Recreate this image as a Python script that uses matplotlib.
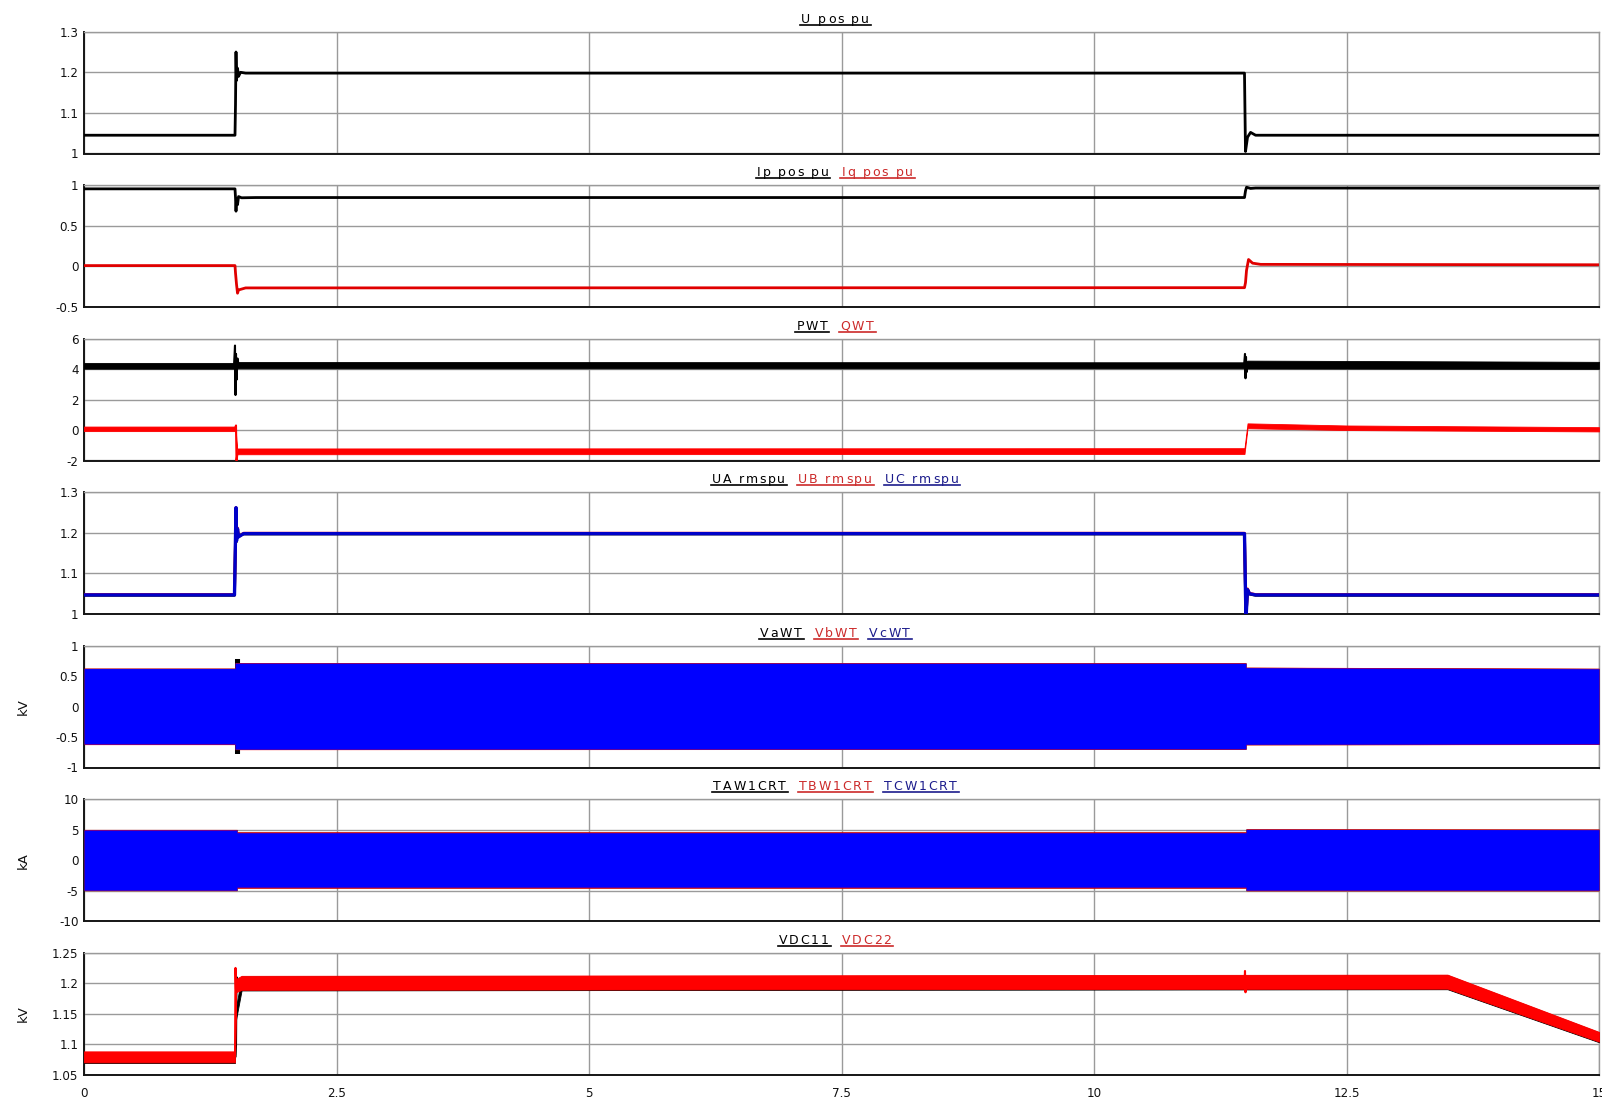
import numpy as np
import matplotlib
matplotlib.use("Agg")
import matplotlib.pyplot as plt
from matplotlib.lines import Line2D
from matplotlib.font_manager import FontProperties

# ---------------- data ----------------
# Panel 1: U_pos_pu
t_u = [0, 1.495, 1.50, 1.505, 1.51, 1.52, 1.53, 1.55, 1.60, 11.49, 11.495, 11.50, 11.52, 11.55, 11.60, 15]
u_pos = [1.045, 1.045, 1.12, 1.25, 1.18, 1.21, 1.19, 1.20, 1.198, 1.198, 1.10, 1.005, 1.04, 1.052, 1.045, 1.045]

# Panel 2: Ip_pos_pu, Iq_pos_pu
t_ip = [0, 1.495, 1.50, 1.505, 1.51, 1.52, 1.53, 1.56, 1.70, 11.49, 11.50, 11.51, 11.55, 11.60, 15]
ip_pos = [0.955, 0.955, 0.85, 0.68, 0.83, 0.76, 0.86, 0.845, 0.848, 0.848, 0.93, 0.975, 0.96, 0.965, 0.963]
t_iq = [0, 1.495, 1.50, 1.51, 1.52, 1.53, 1.60, 11.49, 11.50, 11.51, 11.53, 11.57, 11.65, 15]
iq_pos = [0.01, 0.01, -0.08, -0.22, -0.33, -0.29, -0.265, -0.262, -0.20, -0.05, 0.085, 0.04, 0.025, 0.02]

# Panel 3: PWT, QWT (noisy bands: centre and half width) + transients
t_pwt = [0, 1.49, 1.52, 11.49, 11.52, 15]
pwt_c = [4.22, 4.22, 4.26, 4.25, 4.30, 4.25]
pwt_h = [0.19, 0.19, 0.21, 0.20, 0.26, 0.23]
t_pwt_tr1 = [1.485, 1.495, 1.50, 1.505, 1.51, 1.52, 1.53]
pwt_tr1 = [4.2, 5.55, 2.3, 5.0, 3.3, 4.7, 4.3]
t_pwt_tr2 = [11.485, 11.495, 11.50, 11.505, 11.51, 11.52]
pwt_tr2 = [4.2, 5.0, 3.4, 4.8, 3.8, 4.3]
t_qwt = [0, 1.50, 1.515, 11.49, 11.52, 12.5, 15]
qwt_c = [0.08, 0.08, -1.40, -1.38, 0.28, 0.15, 0.05]
qwt_h = [0.15, 0.15, 0.19, 0.19, 0.16, 0.15, 0.14]
t_qwt_tr = [1.50, 1.505, 1.51, 1.52]
qwt_tr = [0.2, 0.3, -2.0, -1.5]

# Panel 4: UA_rmspu, UB_rmspu, UC_rmspu
t_rms = [0, 1.49, 1.495, 1.505, 1.51, 1.52, 1.53, 1.58, 11.49, 11.50, 11.505, 11.52, 11.54, 11.60, 15]
ua_rms = [1.046, 1.046, 1.110, 1.255, 1.178, 1.205, 1.192, 1.197, 1.197, 1.05, 0.99, 1.058, 1.049, 1.046, 1.046]
ub_rms = [1.048, 1.048, 1.118, 1.262, 1.182, 1.212, 1.190, 1.199, 1.199, 1.05, 0.99, 1.062, 1.051, 1.048, 1.048]
uc_rms = [1.047, 1.047, 1.116, 1.262, 1.180, 1.210, 1.190, 1.198, 1.198, 1.05, 0.99, 1.060, 1.050, 1.047, 1.047]

# Panel 5: VaWT, VbWT, VcWT  (envelopes of the 50 Hz waveforms, kV)
t_va = [0, 1.49, 1.49, 1.54, 1.54, 11.505, 11.505, 15]
va_hi = [0.630, 0.630, 0.790, 0.790, 0.720, 0.718, 0.645, 0.628]
va_lo = [-0.622, -0.622, -0.770, -0.770, -0.704, -0.700, -0.626, -0.620]
t_v = [0, 1.495, 1.495, 11.505, 11.505, 15]
vb_hi = [0.632, 0.632, 0.722, 0.720, 0.648, 0.630]
vb_lo = [-0.624, -0.624, -0.707, -0.702, -0.628, -0.622]
vc_hi = [0.625, 0.625, 0.715, 0.712, 0.640, 0.622]
vc_lo = [-0.615, -0.615, -0.700, -0.695, -0.620, -0.615]

# Panel 6: TAW1CRT, TBW1CRT, TCW1CRT (envelopes, kA)
t_i = [0, 1.515, 1.515, 11.505, 11.505, 15]
ia_hi = [5.02, 5.02, 4.62, 4.62, 5.12, 5.08]
ia_lo = [-5.00, -5.00, -4.58, -4.58, -5.02, -5.02]
ib_hi = [5.04, 5.04, 4.64, 4.64, 5.14, 5.10]
ib_lo = [-5.02, -5.02, -4.60, -4.60, -5.04, -5.04]
ic_hi = [4.95, 4.95, 4.50, 4.50, 5.05, 5.00]
ic_lo = [-4.95, -4.95, -4.45, -4.45, -4.95, -4.95]

# Panel 7: VDC11, VDC22 (noisy bands, kV)
t_dc = [0, 1.495, 1.505, 1.56, 13.5, 15]
dc22_c = [1.079, 1.079, 1.196, 1.2005, 1.2025, 1.112]
dc22_h = [0.009, 0.009, 0.011, 0.0115, 0.0115, 0.008]
dc11_c = [1.078, 1.078, 1.150, 1.1995, 1.2015, 1.111]
dc11_h = [0.009, 0.009, 0.010, 0.0115, 0.0115, 0.008]
t_dc_tr1 = [1.49, 1.495, 1.50, 1.505, 1.52, 1.56]
dc22_tr1 = [1.08, 1.08, 1.225, 1.19, 1.195, 1.20]
t_dc11_tr = [1.50, 1.505, 1.51, 1.52]
dc11_tr = [1.08, 1.10, 1.21, 1.195]
t_dc_tr2 = [11.49, 11.495, 11.50, 11.505]
dc22_tr2 = [1.20, 1.22, 1.185, 1.20]

x_ticks = [0, 2.5, 5, 7.5, 10, 12.5, 15]
x_ticklabels = ["0", "2.5", "5", "7.5", "10", "12.5", "15"]

y_ticks = [
    [1.0, 1.1, 1.2, 1.3],
    [-0.5, 0, 0.5, 1.0],
    [-2, 0, 2, 4, 6],
    [1.0, 1.1, 1.2, 1.3],
    [-1, -0.5, 0, 0.5, 1],
    [-10, -5, 0, 5, 10],
    [1.05, 1.1, 1.15, 1.2, 1.25],
]
y_ticklabels = [
    ["1", "1.1", "1.2", "1.3"],
    ["-0.5", "0", "0.5", "1"],
    ["-2", "0", "2", "4", "6"],
    ["1", "1.1", "1.2", "1.3"],
    ["-1", "-0.5", "0", "0.5", "1"],
    ["-10", "-5", "0", "5", "10"],
    ["1.05", "1.1", "1.15", "1.2", "1.25"],
]
y_units = ["", "", "", "", "kV", "kA", "kV"]

BLK = "#000000"
RED = "#ff0000"
BLU = "#0000ff"
TRED = "#cc2a2a"
TBLU = "#1c1c8c"

titles = [
    [("U_pos_pu", BLK)],
    [("Ip_pos_pu", BLK), ("Iq_pos_pu", TRED)],
    [("PWT", BLK), ("QWT", TRED)],
    [("UA_rmspu", BLK), ("UB_rmspu", TRED), ("UC_rmspu", TBLU)],
    [("VaWT", BLK), ("VbWT", TRED), ("VcWT", TBLU)],
    [("TAW1CRT", BLK), ("TBW1CRT", TRED), ("TCW1CRT", TBLU)],
    [("VDC11", BLK), ("VDC22", TRED)],
]

# ---------------- figure ----------------
W, H = 1602, 1101
fig = plt.figure(figsize=(W / 100, H / 100), dpi=100)
fig.patch.set_facecolor("white")

LEFT, RIGHT = 84, 1599
TOP0, STEP, PH = 31.7, 153.5, 121.8
TICK_SIZE = 8.6
GRID = "#9a9a9a"

axes = []
for k in range(7):
    top = TOP0 + STEP * k
    ax = fig.add_axes([LEFT / W, 1 - (top + PH) / H, (RIGHT - LEFT) / W, PH / H])
    axes.append(ax)
    ax.set_xlim(0, 15)
    yt = y_ticks[k]
    ax.set_ylim(yt[0], yt[-1])
    ax.set_yticks(yt)
    ax.set_yticklabels(y_ticklabels[k])
    ax.set_xticks(x_ticks)
    if k == 6:
        ax.set_xticklabels(x_ticklabels)
    else:
        ax.set_xticklabels([])
    ax.tick_params(axis="both", length=0, labelsize=TICK_SIZE, labelcolor="#111111")
    ax.tick_params(axis="y", pad=4)
    ax.tick_params(axis="x", pad=9)
    ax.grid(True, color=GRID, linewidth=1.0)
    ax.set_axisbelow(True)
    for s in ("left", "bottom"):
        ax.spines[s].set_color("#151515")
        ax.spines[s].set_linewidth(1.4)
    for s in ("top", "right"):
        ax.spines[s].set_color(GRID)
        ax.spines[s].set_linewidth(1.0)
    if y_units[k]:
        ax.set_ylabel(y_units[k], fontsize=9.5, family="DejaVu Sans", color="#111111")
        ax.yaxis.set_label_coords(-0.036, 0.5)


def band(ax, t, c, h, color, z):
    c = np.asarray(c, float)
    h = np.asarray(h, float)
    ax.fill_between(t, c - h, c + h, color=color, lw=0.6, edgecolor=color, zorder=z)


# Panel 1
axes[0].plot(t_u, u_pos, color=BLK, lw=2.0, zorder=3)
# Panel 2
axes[1].plot(t_ip, ip_pos, color=BLK, lw=2.0, zorder=3)
axes[1].plot(t_iq, iq_pos, color="#e00000", lw=2.0, zorder=3)
# Panel 3
band(axes[2], t_pwt, pwt_c, pwt_h, BLK, 3)
axes[2].plot(t_pwt_tr1, pwt_tr1, color=BLK, lw=1.5, zorder=3)
axes[2].plot(t_pwt_tr2, pwt_tr2, color=BLK, lw=1.5, zorder=3)
band(axes[2], t_qwt, qwt_c, qwt_h, RED, 4)
axes[2].plot(t_qwt_tr, qwt_tr, color=RED, lw=1.5, zorder=4)
# Panel 4
axes[3].plot(t_rms, ua_rms, color=BLK, lw=2.0, zorder=3)
axes[3].plot(t_rms, ub_rms, color=RED, lw=2.0, zorder=4)
axes[3].plot(t_rms, uc_rms, color="#0000c8", lw=2.4, zorder=5)
# Panel 5
axes[4].fill_between(t_va, va_lo, va_hi, color=BLK, lw=0, zorder=3)
axes[4].fill_between(t_v, vb_lo, vb_hi, color=RED, lw=0, zorder=4)
axes[4].fill_between(t_v, vc_lo, vc_hi, color=BLU, lw=0, zorder=5)
# Panel 6
axes[5].fill_between(t_i, ia_lo, ia_hi, color=BLK, lw=0, zorder=3)
axes[5].fill_between(t_i, ib_lo, ib_hi, color=RED, lw=0, zorder=4)
axes[5].fill_between(t_i, ic_lo, ic_hi, color=BLU, lw=0, zorder=5)
# Panel 7
band(axes[6], t_dc, dc11_c, dc11_h, BLK, 3)
axes[6].plot(t_dc11_tr, dc11_tr, color=BLK, lw=1.5, zorder=3)
band(axes[6], t_dc, dc22_c, dc22_h, RED, 4)
axes[6].plot(t_dc_tr1, dc22_tr1, color=RED, lw=1.5, zorder=4)
axes[6].plot(t_dc_tr2, dc22_tr2, color=RED, lw=1.5, zorder=4)

# ---------------- underlined, multi-coloured titles ----------------
fp = FontProperties(family="DejaVu Sans", size=9.0)
renderer = fig.canvas.get_renderer()


def text_w(s):
    w, _, _ = renderer.get_text_width_height_descent(s, fp, ismath=False)
    return w


def char_w(c):
    if c in " _":
        return text_w("x x") - text_w("xx")
    return text_w(c)


TRACK = 1.8
GAP = 11
CENTER_X = 836
for k in range(7):
    top = TOP0 + STEP * k
    pieces = titles[k]
    widths = [sum(char_w(c) + TRACK for c in s) for s, _ in pieces]
    total = sum(widths) + GAP * (len(pieces) - 1)
    x = CENTER_X - total / 2
    base_y = 1 - (top - 9) / H
    ul_y = 1 - (top - 7) / H
    for (s, col), wpc in zip(pieces, widths):
        cx = x
        for c in s:
            if c not in " _":
                fig.text(cx / W, base_y, c, fontproperties=fp, color=col,
                         ha="left", va="baseline")
            cx += char_w(c) + TRACK
        fig.add_artist(Line2D([(x - 1) / W, (x + wpc) / W], [ul_y, ul_y],
                              color=col, lw=1.2, transform=fig.transFigure))
        x += wpc + GAP

fig.savefig("out.png", dpi=100, facecolor="white")
